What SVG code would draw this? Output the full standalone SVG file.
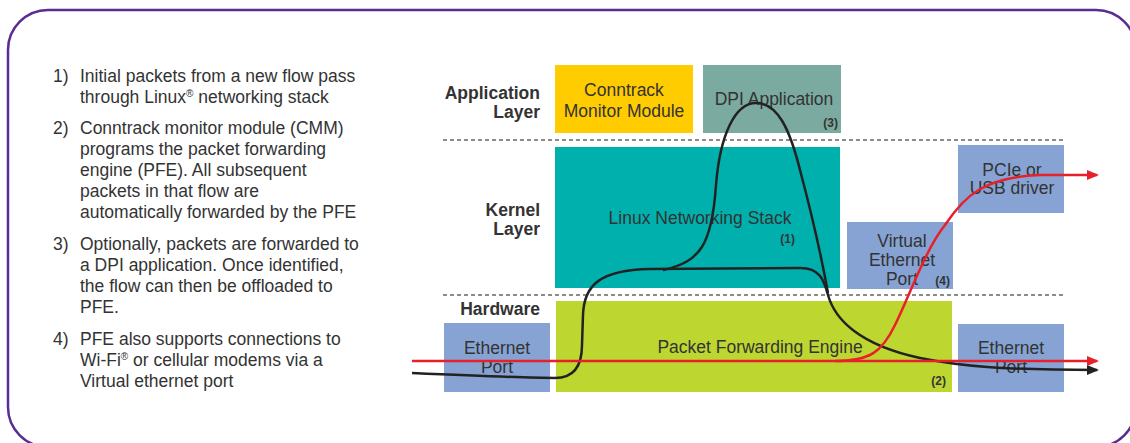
<svg xmlns="http://www.w3.org/2000/svg" width="1130" height="443" viewBox="0 0 1130 443">
<style>
.t{font-family:"Liberation Sans",Arial,sans-serif;font-size:17.5px;fill:#333}
.b{font-family:"Liberation Sans",Arial,sans-serif;font-size:17.5px;font-weight:bold;fill:#333;text-anchor:end}
.n{font-family:"Liberation Sans",Arial,sans-serif;font-size:12px;font-weight:bold;fill:#333;text-anchor:end}
.c{text-anchor:middle}
.sup{font-size:10px}
.dash{stroke:#666;stroke-width:1.5;stroke-dasharray:4 3;fill:none}
.blk{stroke:#222;stroke-width:2.5;fill:none}
.red{stroke:#E8202A;stroke-width:2.5;fill:none}
</style>
<defs>
<marker id="ab" markerUnits="userSpaceOnUse" markerWidth="12" markerHeight="10" refX="10" refY="5" orient="auto"><path d="M0,0 L12,5 L0,10 z" fill="#222"/></marker>
<marker id="ar" markerUnits="userSpaceOnUse" markerWidth="12" markerHeight="10" refX="10" refY="5" orient="auto"><path d="M0,0 L12,5 L0,10 z" fill="#E8202A"/></marker>
</defs>
<rect x="8" y="10" width="1128" height="437" rx="40" ry="40" fill="#fff" stroke="#5B2D90" stroke-width="2.5"/>
<g id="list">
<text class="t" x="53" y="82">1)</text>
<text class="t" x="80" y="82">Initial packets from a new flow pass</text>
<text class="t" x="80" y="103">through Linux<tspan class="sup" dy="-6">®</tspan><tspan dy="6"> networking stack</tspan></text>
<text class="t" x="53" y="134">2)</text>
<text class="t" x="80" y="134">Conntrack monitor module (CMM)</text>
<text class="t" x="80" y="155">programs the packet forwarding</text>
<text class="t" x="80" y="176">engine (PFE). All subsequent</text>
<text class="t" x="80" y="197">packets in that flow are</text>
<text class="t" x="80" y="218">automatically forwarded by the PFE</text>
<text class="t" x="53" y="250">3)</text>
<text class="t" x="80" y="250">Optionally, packets are forwarded to</text>
<text class="t" x="80" y="271">a DPI application. Once identified,</text>
<text class="t" x="80" y="292">the flow can then be offloaded to</text>
<text class="t" x="80" y="313">PFE.</text>
<text class="t" x="53" y="345">4)</text>
<text class="t" x="80" y="345">PFE also supports connections to</text>
<text class="t" x="80" y="366">Wi-Fi<tspan class="sup" dy="-6">®</tspan><tspan dy="6"> or cellular modems via a</tspan></text>
<text class="t" x="80" y="387">Virtual ethernet port</text>
</g>
<g id="layers">
<text class="b" x="540" y="99">Application</text>
<text class="b" x="540" y="118">Layer</text>
<text class="b" x="540" y="216">Kernel</text>
<text class="b" x="540" y="235">Layer</text>
<text class="b" x="540" y="315">Hardware</text>
<line class="dash" x1="443" y1="140" x2="1064" y2="140"/>
<line class="dash" x1="443" y1="295" x2="1064" y2="295"/>
</g>
<g id="cmm">
<rect x="555" y="65" width="138" height="68" fill="#FFCC00"/>
<text class="t c" x="624" y="96">Conntrack</text>
<text class="t c" x="624" y="117">Monitor Module</text>
</g>
<g id="dpi">
<rect x="703" y="65" width="138" height="68" fill="#7BAAA0"/>
<text class="t c" x="774" y="105">DPI Application</text>
<text class="n" x="838" y="127">(3)</text>
</g>
<g id="lns">
<rect x="555" y="147" width="285" height="141" fill="#00B0AD"/>
<text class="t c" x="700" y="224">Linux Networking Stack</text>
<text class="n" x="795" y="243">(1)</text>
</g>
<g id="veth">
<rect x="847" y="222" width="106" height="67" fill="#86A3D3"/>
<text class="t c" x="902" y="247">Virtual</text>
<text class="t c" x="902" y="266">Ethernet</text>
<text class="t c" x="902" y="285">Port</text>
<text class="n" x="950" y="285">(4)</text>
</g>
<g id="pcie">
<rect x="958" y="145" width="106" height="68" fill="#86A3D3"/>
<text class="t c" x="1012" y="176">PCIe or</text>
<text class="t c" x="1012" y="194">USB driver</text>
</g>
<g id="pfe">
<rect x="556" y="301" width="396" height="91" fill="#BED630"/>
<text class="t c" x="760" y="353">Packet Forwarding Engine</text>
<text class="n" x="946" y="385">(2)</text>
</g>
<g id="eth1">
<rect x="444" y="323" width="106" height="69" fill="#86A3D3"/>
<text class="t c" x="497" y="354">Ethernet</text>
<text class="t c" x="497" y="373">Port</text>
</g>
<g id="eth2">
<rect x="958" y="324" width="106" height="68" fill="#86A3D3"/>
<text class="t c" x="1011" y="354">Ethernet</text>
<text class="t c" x="1011" y="373">Port</text>
</g>
<g id="connectors">
<path class="blk" d="M412 373 C480 376 530 378 555 378 C575 378 582 365 582 345 L583 315 C584 285 600 270 650 269 L800 268 C820 268 824 280 828 295 C835 320 860 345 920 358 C960 366 1000 370 1097 370" marker-end="url(#ab)"/>
<path class="blk" d="M663 270 C700 262 712 245 716 185 C720 135 735 103 756 103 C778 103 790 130 800 170 C812 215 822 260 828 293"/>
<path class="red" d="M412 361 L1097 361" marker-end="url(#ar)"/>
<path class="red" d="M835 361 C870 361 882 352 895 325 C910 295 925 250 945 225 C965 195 985 177 1040 175 L1097 175" marker-end="url(#ar)"/>
</g>
</svg>
